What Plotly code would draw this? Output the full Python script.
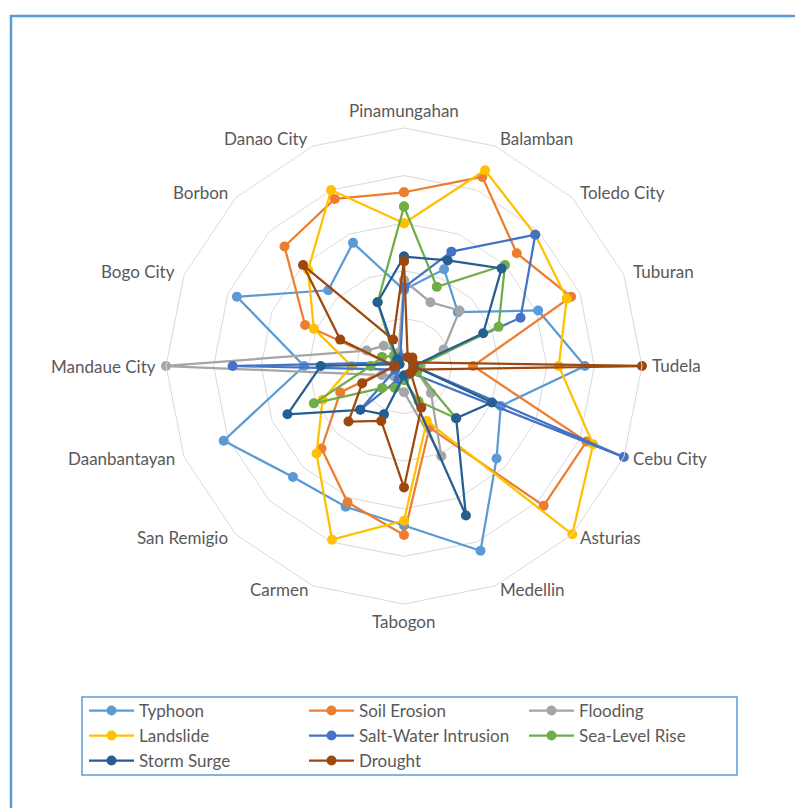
import math
import plotly.graph_objects as go

W, H = 795, 808

categories = ["Pinamungahan", "Balamban", "Toledo City", "Tuburan", "Tudela", "Cebu City",
              "Asturias", "Medellin", "Tabogon", "Carmen", "San Remigio", "Daanbantayan",
              "Mandaue City", "Bogo City", "Borbon", "Danao City"]

typhoon      = [1.6, 2.2, 1.6, 3.05, 3.8, 2.2, 2.75, 4.2, 3.35, 3.2, 3.3, 4.1, 2.1, 3.8, 2.25, 2.8]
soil_erosion = [3.65, 4.3, 3.35, 3.8, 1.45, 4.15, 4.15, 1.4, 3.55, 3.1, 2.45, 1.45, 0.2, 2.25, 3.55, 3.8]
flooding     = [1.8, 1.45, 1.65, 0.9, 0.35, 0.3, 0.8, 2.05, 0.55, 0.45, 0.3, 0.5, 5.0, 0.85, 0.6, 0.3]
landslide    = [3.0, 4.45, 3.9, 3.7, 3.25, 4.3, 5.0, 1.25, 3.25, 3.95, 2.6, 1.85, 1.1, 2.05, 2.85, 4.0]
salt_water   = [1.65, 2.6, 3.9, 2.65, 0.2, 5.0, 0.2, 0.2, 0.2, 0.3, 1.3, 0.2, 3.6, 0.2, 0.2, 0.2]
sea_level    = [3.35, 1.8, 3.0, 2.15, 0.3, 0.3, 1.55, 0.8, 0.3, 0.5, 0.65, 2.05, 0.7, 0.5, 0.3, 1.45]
storm_surge  = [2.3, 2.4, 2.9, 1.8, 0.2, 2.0, 1.55, 3.4, 0.2, 1.1, 1.3, 2.65, 1.75, 0.1, 0.2, 1.45]
drought      = [2.2, 0.2, 0.25, 0.2, 5.0, 0.2, 0.2, 0.95, 2.55, 1.25, 1.65, 0.95, 0.2, 1.45, 3.0, 0.6]

series = [
    ("Typhoon", typhoon, "#5B9BD5", "legend"),
    ("Soil Erosion", soil_erosion, "#ED7D31", "legend"),
    ("Flooding", flooding, "#A5A5A5", "legend"),
    ("Landslide", landslide, "#FFC000", "legend2"),
    ("Salt-Water Intrusion", salt_water, "#4472C4", "legend2"),
    ("Sea-Level Rise", sea_level, "#70AD47", "legend2"),
    ("Storm Surge", storm_surge, "#255E91", "legend3"),
    ("Drought", drought, "#9E480E", "legend3"),
]

fig = go.Figure()
for name, vals, color, lg in series:
    fig.add_trace(go.Scatterpolar(
        r=vals + vals[:1], theta=categories + categories[:1],
        mode="lines+markers", name=name, legend=lg,
        line=dict(color=color, width=2.25),
        marker=dict(color=color, size=10),
    ))

def px_x(x):
    return x / W

def px_y(y):
    return 1 - y / H

cx, cy, R = 404, 366, 238
font_family = "Lato, 'Open Sans', sans-serif"
label_font = dict(family=font_family, size=17, color="#595959")

# category labels placed next to each polygon vertex (Excel-style placement)
annotations = []
n = len(categories)
for k, name in enumerate(categories):
    th = math.radians(360.0 * k / n)
    s, c = math.sin(th), math.cos(th)
    vx, vy = cx + R * s, cy - R * c
    if abs(s) < 1e-6:
        xa = "center"
        x = vx
        y = vy - 18 if c > 0 else vy + 17
    else:
        xa = "left" if s > 0 else "right"
        x = vx + 8 * s
        y = vy - 8 * c if c > 0 else vy - 4 * c
    annotations.append(dict(text=name, x=px_x(x), y=px_y(y), xref="paper", yref="paper",
                            xanchor=xa, yanchor="middle", showarrow=False, font=label_font))

legend_common = dict(orientation="h", xanchor="left", yanchor="middle",
                     font=label_font,
                     bgcolor="rgba(0,0,0,0)", entrywidth=160, entrywidthmode="pixels",
                     itemwidth=45, tracegroupgap=0)

fig.update_layout(
    width=W, height=H,
    margin=dict(l=0, r=0, t=0, b=0),
    paper_bgcolor="white",
    polar=dict(
        domain=dict(x=[px_x(cx - R), px_x(cx + R)], y=[px_y(cy + R), px_y(cy - R)]),
        gridshape="linear",
        bgcolor="white",
        angularaxis=dict(direction="clockwise", rotation=90, type="category",
                         showgrid=False, showline=True, linecolor="#D9D9D9", linewidth=1,
                         ticks="", showticklabels=False),
        radialaxis=dict(range=[0, 5], dtick=1, showticklabels=False, showline=False,
                        ticks="", gridcolor="#D9D9D9", gridwidth=1),
    ),
    annotations=annotations,
    legend=dict(x=px_x(84), y=px_y(711), **legend_common),
    legend2=dict(x=px_x(84), y=px_y(736), **legend_common),
    legend3=dict(x=px_x(84), y=px_y(761), **legend_common),
    shapes=[
        dict(type="rect", xref="paper", yref="paper",
             x0=px_x(11), x1=px_x(830), y0=px_y(850), y1=px_y(16),
             line=dict(color="#5B9BD5", width=2.5)),
        dict(type="rect", xref="paper", yref="paper",
             x0=px_x(82), x1=px_x(737), y0=px_y(775), y1=px_y(697),
             line=dict(color="#5B9BD5", width=1.5)),
    ],
)

fig.write_html("out.html")
